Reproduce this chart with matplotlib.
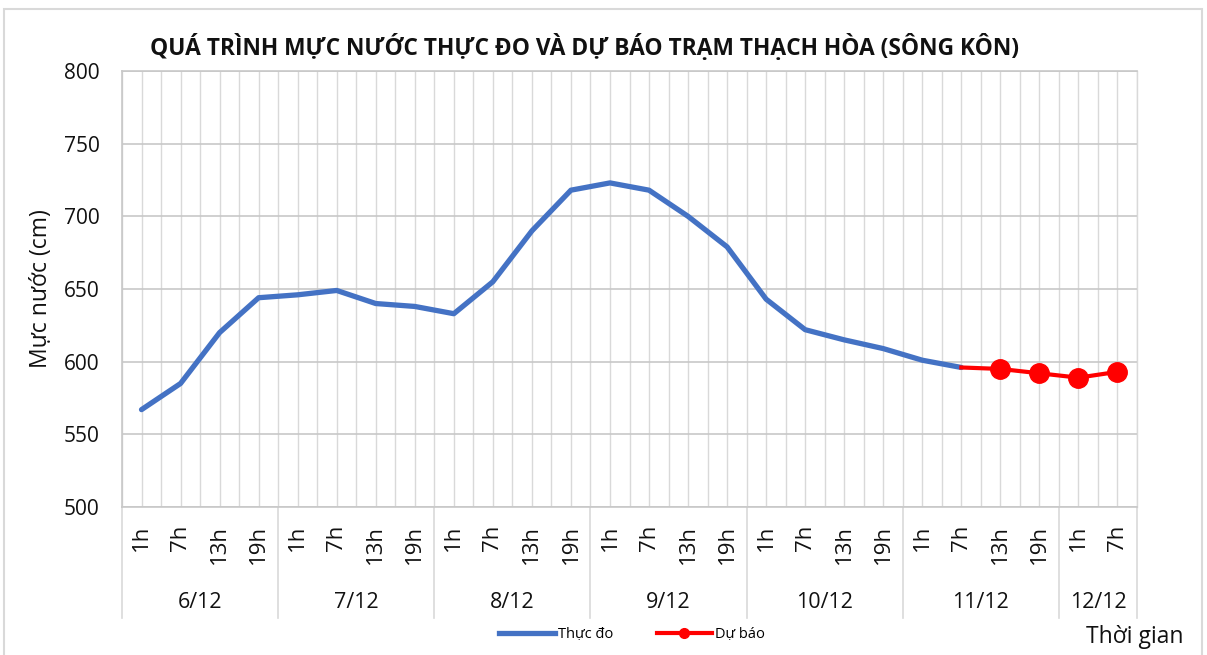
import matplotlib
matplotlib.use("Agg")
import matplotlib.pyplot as plt
from matplotlib.lines import Line2D
from matplotlib.patches import Rectangle
import matplotlib.transforms as mtransforms

plt.rcParams['font.family'] = ['Open Sans', 'DejaVu Sans']

# data
dates = ['6/12', '7/12', '8/12', '9/12', '10/12', '11/12', '12/12']
hours_per_date = [
    ['1h', '7h', '13h', '19h'],
    ['1h', '7h', '13h', '19h'],
    ['1h', '7h', '13h', '19h'],
    ['1h', '7h', '13h', '19h'],
    ['1h', '7h', '13h', '19h'],
    ['1h', '7h', '13h', '19h'],
    ['1h', '7h'],
]
observed = [567, 585, 620, 644,
            646, 649, 640, 638,
            633, 655, 690, 718,
            723, 718, 700, 679,
            643, 622, 615, 609,
            601, 596]
forecast = [596, 595, 592, 589, 593]  # from 11/12 7h to 12/12 7h

hour_labels = [h for hs in hours_per_date for h in hs]
n = len(hour_labels)
x_obs = list(range(len(observed)))
x_fc = list(range(len(observed) - 1, len(observed) - 1 + len(forecast)))

txt = '#111111'

fig = plt.figure(figsize=(12.07, 6.55), dpi=100)
ax = fig.add_axes([122 / 1207, 1 - 507 / 655, 1015 / 1207, 436 / 655])

ax.plot(x_obs, observed, color='#4472C4', lw=3.8, solid_capstyle='round',
        solid_joinstyle='round', zorder=3)
ax.plot(x_fc, forecast, color='#FF0000', lw=3.0, marker='o', markersize=14,
        markevery=list(range(1, len(forecast))), zorder=4)

ax.set_xlim(-0.5, n - 0.5)
ax.set_ylim(500, 800)
ax.set_yticks(range(500, 801, 50))
ax.set_xticks(range(n))
ax.set_xticks([i - 0.5 for i in range(n + 1)], minor=True)
ax.set_xticklabels([])
ax.tick_params(axis='both', which='both', length=0)
ax.tick_params(axis='y', labelsize=15, pad=16, labelcolor=txt)
ax.grid(axis='x', which='both', color='#d9d9d9', lw=1)
ax.grid(axis='y', which='major', color='#c8c8c8', lw=1.2)
ax.set_axisbelow(True)
for side in ['left', 'bottom', 'right', 'top']:
    ax.spines[side].set_color('#c8c8c8')
    ax.spines[side].set_linewidth(1.2)
ax.spines['right'].set_color('#d9d9d9')
ax.spines['right'].set_linewidth(1)

ax.set_ylabel('Mực nước (cm)', fontsize=16.5, color=txt)
ax.yaxis.set_label_coords(-0.068, 0.5)

# two-level category axis
trans = mtransforms.blended_transform_factory(ax.transData, ax.transAxes)
for i, lab in enumerate(hour_labels):
    ax.text(i, -0.041, lab, transform=trans, rotation=90, ha='center',
            va='top', fontsize=16, color=txt)

start = 0
bounds = [-0.5]
for d, hs in zip(dates, hours_per_date):
    mid = start + (len(hs) - 1) / 2
    ax.text(mid, -0.22, d, transform=trans, ha='center', va='center',
            fontsize=15.5, color=txt)
    start += len(hs)
    bounds.append(start - 0.5)
for b in bounds:
    ax.plot([b, b], [0, -0.254], transform=trans, color='#d9d9d9', lw=1.2,
            clip_on=False)

fig.text(585 / 1207, 1 - 47 / 655, 'QUÁ TRÌNH MỰC NƯỚC THỰC ĐO VÀ DỰ BÁO TRẠM THẠCH HÒA (SÔNG KÔN)',
         ha='center', va='center', fontsize=16.4, fontweight='bold', color=txt)

fig.text(1135 / 1207, 1 - 637 / 655, 'Thời gian', ha='center', va='center',
         fontsize=16.5, color=txt)

handles = [
    Line2D([], [], color='#4472C4', lw=3.8),
    Line2D([], [], color='#FF0000', lw=3.0, marker='o', markersize=7),
]
fig.legend(handles, ['Thực đo', 'Dự báo'], loc='center', ncol=2,
           bbox_to_anchor=(632 / 1207, 1 - 635 / 655), frameon=False,
           fontsize=10.5, handlelength=3.8, handletextpad=0.2, columnspacing=3.0)

fig.patches.append(Rectangle((4 / 1207, -0.05), 1198 / 1207, 1.05 - 9 / 655,
                             transform=fig.transFigure, fill=False,
                             edgecolor='#d9d9d9', lw=1.5))

fig.savefig('out.png', dpi=100)
